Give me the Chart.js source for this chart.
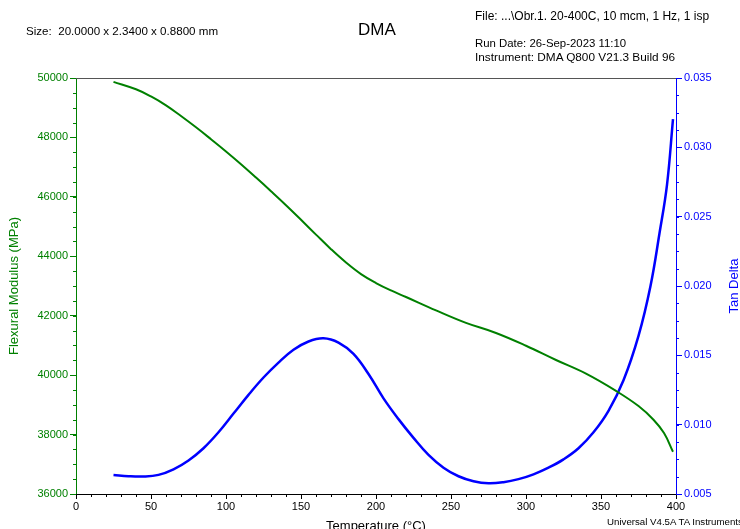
<!DOCTYPE html>
<html>
<head>
<meta charset="utf-8">
<title>DMA</title>
<script src="https://cdn.jsdelivr.net/npm/chart.js@4.4.1/dist/chart.umd.min.js"></script>
<style>
  body { margin: 0; background: #fff; }
  #wrap { position: relative; width: 740px; height: 529px; overflow: hidden; font-family: "Liberation Sans", Arial, sans-serif; }
  .txt { position: absolute; white-space: nowrap; color: #000; font-size: 11px; line-height: 13px; }
</style>
</head>
<body>
<div id="wrap">
  <canvas id="grafico-dma" width="740" height="529"></canvas>
  <div class="txt" style="left:26px; top:24px; font-size:11.6px;">Size:&nbsp; 20.0000 x 2.3400 x 0.8800 mm</div>
  <div class="txt" style="left:358px; top:20px; font-size:17px; line-height:20px;">DMA</div>
  <div class="txt" style="left:475px; top:10px; font-size:12px;">File: ...\Obr.1. 20-400C, 10 mcm, 1 Hz, 1 isp</div>
  <div class="txt" style="left:475px; top:37px; font-size:11.4px;">Run Date: 26-Sep-2023 11:10</div>
  <div class="txt" style="left:475px; top:51px; font-size:11.8px;">Instrument: DMA Q800 V21.3 Build 96</div>
  <div class="txt" style="left:607px; top:516px; font-size:9.7px; line-height:11px;">Universal V4.5A TA Instruments</div>
</div>
<script>
// Datos
const temperaturaModulo = [25, 40, 50, 60, 70, 80, 90, 100, 110, 120, 130, 140, 150, 160, 170, 180, 190, 200, 210, 220, 240, 260, 280, 300, 320, 340, 360, 375, 385, 392, 398];
const moduloFlexion = [49870, 49620, 49380, 49080, 48720, 48340, 47940, 47530, 47100, 46650, 46190, 45720, 45230, 44730, 44240, 43790, 43400, 43100, 42850, 42630, 42180, 41760, 41420, 40990, 40510, 40050, 39470, 38960, 38500, 38050, 37420];

const temperaturaTan = [25, 35, 45, 55, 65, 75, 85, 95, 105, 115, 125, 135, 145, 155, 165, 175, 185, 195, 205, 215, 225, 235, 245, 255, 265, 275, 285, 295, 305, 315, 325, 335, 345, 355, 365, 375, 383, 389, 394, 398];
const tanDelta = [0.00637, 0.00628, 0.00626, 0.00638, 0.00678, 0.00742, 0.00830, 0.00945, 0.01080, 0.01215, 0.01340, 0.01448, 0.01540, 0.01600, 0.01623, 0.01592, 0.01510, 0.01365, 0.01190, 0.01040, 0.00905, 0.00782, 0.00690, 0.00628, 0.00592, 0.00577, 0.00585, 0.00607, 0.00642, 0.00690, 0.00750, 0.00830, 0.00945, 0.01100, 0.01320, 0.01640, 0.02000, 0.02380, 0.02730, 0.03204];

// Ticks de los ejes
const ticksTemperatura = [0, 50, 100, 150, 200, 250, 300, 350, 400];
const ticksModulo = [36000, 38000, 40000, 42000, 44000, 46000, 48000, 50000];
const ticksTan = [0.005, 0.010, 0.015, 0.020, 0.025, 0.030, 0.035];

const VERDE = '#008000';
const AZUL = '#0000ff';
const FAMILIA = '"Liberation Sans", Arial, sans-serif';

// Marcas menores, borde superior y título del eje derecho
const marcasMenores = {
  id: 'marcasMenores',
  afterDraw(chart) {
    const ctx = chart.ctx;
    const area = chart.chartArea;
    ctx.save();
    ctx.lineWidth = 1;

    // borde superior
    ctx.strokeStyle = '#555';
    ctx.beginPath();
    ctx.moveTo(area.left, area.top + 0.5);
    ctx.lineTo(area.right, area.top + 0.5);
    ctx.stroke();

    const x = chart.scales.x;
    ctx.strokeStyle = '#000';
    ctx.beginPath();
    for (let t = 0; t <= 400; t += 10) {
      const px = Math.round(x.getPixelForValue(t)) + 0.5;
      ctx.moveTo(px, area.bottom);
      ctx.lineTo(px, area.bottom + 3);
    }
    ctx.stroke();

    const y = chart.scales.y;
    ctx.strokeStyle = VERDE;
    ctx.beginPath();
    for (let v = 36000; v <= 50000; v += 500) {
      const py = Math.round(y.getPixelForValue(v)) + 0.5;
      ctx.moveTo(area.left - 3, py);
      ctx.lineTo(area.left, py);
    }
    ctx.stroke();

    const y1 = chart.scales.y1;
    ctx.strokeStyle = AZUL;
    ctx.beginPath();
    for (let i = 0; i <= 24; i++) {
      const v = 0.005 + i * 0.00125;
      const py = Math.round(y1.getPixelForValue(v)) + 0.5;
      ctx.moveTo(area.right, py);
      ctx.lineTo(area.right + 3, py);
    }
    ctx.stroke();

    // título "Tan Delta" leído de abajo hacia arriba
    ctx.translate(738, (area.top + area.bottom) / 2);
    ctx.rotate(-Math.PI / 2);
    ctx.fillStyle = AZUL;
    ctx.font = '13px ' + FAMILIA;
    ctx.textAlign = 'center';
    ctx.textBaseline = 'alphabetic';
    ctx.fillText('Tan Delta', 0, 0);
    ctx.restore();
  }
};

const fuente = { family: FAMILIA, size: 11 };

new Chart(document.getElementById('grafico-dma'), {
  type: 'line',
  data: {
    datasets: [
      {
        label: 'Flexural Modulus',
        data: temperaturaModulo.map((t, i) => ({ x: t, y: moduloFlexion[i] })),
        borderColor: VERDE,
        borderWidth: 2,
        pointRadius: 0,
        tension: 0.4,
        yAxisID: 'y'
      },
      {
        label: 'Tan Delta',
        data: temperaturaTan.map((t, i) => ({ x: t, y: tanDelta[i] })),
        borderColor: AZUL,
        borderWidth: 2.5,
        pointRadius: 0,
        tension: 0.4,
        yAxisID: 'y1'
      }
    ]
  },
  options: {
    responsive: false,
    animation: false,
    layout: { padding: { top: 78, left: 0, right: 0, bottom: 0 } },
    plugins: {
      legend: { display: false },
      tooltip: { enabled: false }
    },
    scales: {
      x: {
        type: 'linear',
        min: 0,
        max: 400,
        afterBuildTicks: s => { s.ticks = ticksTemperatura.map(v => ({ value: v })); },
        afterFit: s => { s.height = 35; },
        grid: { display: true, drawOnChartArea: false, drawTicks: true, tickLength: 5, color: '#000' },
        border: { display: true, color: '#000', width: 1 },
        ticks: { color: '#000', font: fuente, padding: 1, maxRotation: 0 },
        title: {
          display: true,
          text: 'Temperature (°C)',
          color: '#000',
          font: { family: FAMILIA, size: 13 },
          padding: { top: 0, bottom: -5 }
        }
      },
      y: {
        type: 'linear',
        position: 'left',
        min: 36000,
        max: 50000,
        afterBuildTicks: s => { s.ticks = ticksModulo.map(v => ({ value: v })); },
        afterFit: s => { s.width = 76; },
        grid: { display: true, drawOnChartArea: false, drawTicks: true, tickLength: 6, color: VERDE },
        border: { display: true, color: VERDE, width: 1 },
        ticks: { color: VERDE, font: fuente, padding: 2, callback: v => String(v) },
        title: {
          display: true,
          text: 'Flexural Modulus (MPa)',
          color: VERDE,
          font: { family: FAMILIA, size: 13 },
          padding: { top: 7, bottom: 0 }
        }
      },
      y1: {
        type: 'linear',
        position: 'right',
        min: 0.005,
        max: 0.035,
        afterBuildTicks: s => { s.ticks = ticksTan.map(v => ({ value: v })); },
        afterFit: s => { s.width = 64; },
        grid: { display: true, drawOnChartArea: false, drawTicks: true, tickLength: 6, color: AZUL },
        border: { display: true, color: AZUL, width: 1 },
        ticks: { color: AZUL, font: fuente, padding: 2, callback: v => v.toFixed(3) },
        title: { display: false }
      }
    }
  },
  plugins: [marcasMenores]
});
</script>
</body>
</html>
